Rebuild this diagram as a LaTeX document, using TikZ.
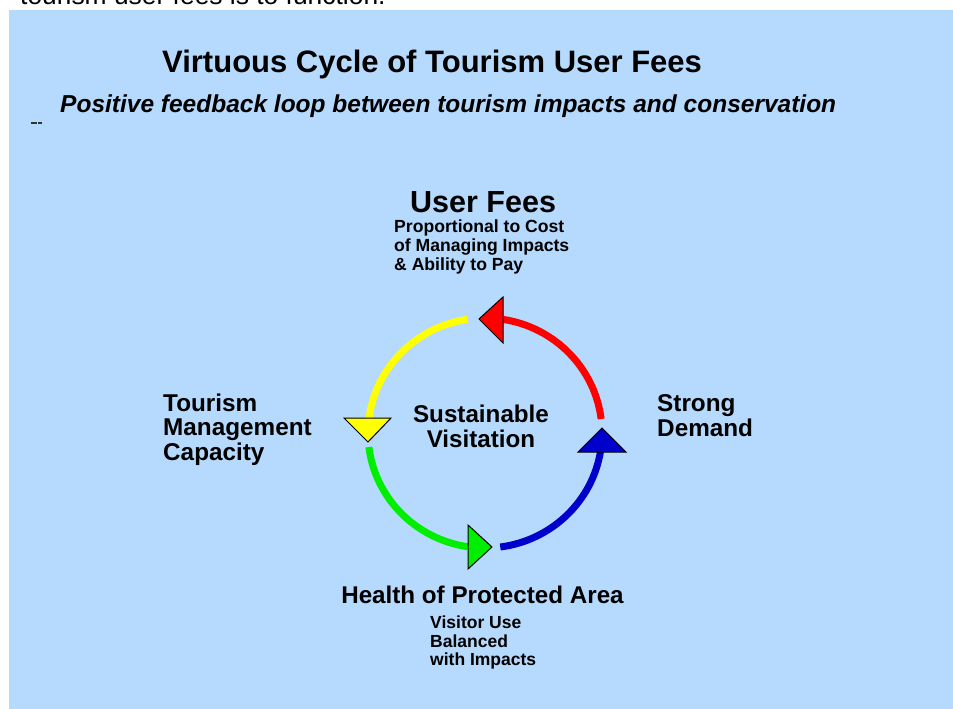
\documentclass[tikz,border=0pt]{standalone}
\usepackage{fontspec}
\setmainfont{Liberation Sans}
\definecolor{bgblue}{RGB}{181,218,253}
\definecolor{cred}{RGB}{255,0,0}
\definecolor{cyellow}{RGB}{255,255,0}
\definecolor{cgreen}{RGB}{0,238,0}
\definecolor{cblue}{RGB}{0,0,205}
\begin{document}
\begin{tikzpicture}[x=1pt,y=-1pt,
  ring/.style={line width=7pt},
  head/.style={draw=black,line width=1pt,line join=miter},
  lbl/.style={inner sep=0pt,font=\bfseries},
]
\useasboundingbox (0,0) rectangle (953,709);
\node[inner sep=0pt,anchor=base west,font=\fontsize{26.4}{30}\selectfont] (top) at (20,4.5) {tourism user fees is to function.};
\fill[bgblue] (9,10) rectangle (953,709);
\draw[line width=1.3pt,black!80] (31,123) -- (37,123) (38,123) -- (42,123);

\node[lbl,anchor=base west,font=\bfseries\fontsize{31}{36}\selectfont] (title) at (162,73) {Virtuous Cycle of Tourism User Fees};
\node[lbl,anchor=base west,font=\bfseries\itshape\fontsize{24.5}{28}\selectfont] (sub) at (60,112) {Positive feedback loop between tourism impacts and conservation};

\coordinate (c) at (485,433);
\draw[ring,cred]    (c) ++(-7:117 and 115)     arc[start angle=-7,     end angle=-81,    x radius=117, y radius=115];
\draw[ring,cyellow] (c) ++(-98.5:117 and 115)  arc[start angle=-98.5,  end angle=-172.7, x radius=117, y radius=115];
\draw[ring,cgreen]  (c) ++(-187:117 and 115)   arc[start angle=-187,   end angle=-261.5, x radius=117, y radius=115];
\draw[ring,cblue]   (c) ++(-277.5:117 and 115) arc[start angle=-277.5, end angle=-351,   x radius=117, y radius=115];

\filldraw[head,fill=cred]    (479,319) -- (503,297) -- (503,343) -- cycle;
\filldraw[head,fill=cyellow] (368,442) -- (344,418) -- (391,418) -- cycle;
\filldraw[head,fill=cgreen]  (492,547) -- (468,525) -- (468,569) -- cycle;
\filldraw[head,fill=cblue]   (602,428) -- (578,452) -- (626,452) -- cycle;

\node[lbl,anchor=base west,font=\bfseries\fontsize{30.5}{34}\selectfont] (fees) at (410,212) {User Fees};
\node[lbl,anchor=base west,font=\bfseries\fontsize{17.6}{19}\selectfont] (feesd) at (394,232)
  {\begin{tabular}[t]{@{}l@{}}Proportional to Cost\\of Managing Impacts\\\& Ability to Pay\end{tabular}};
\node[lbl,anchor=base west,font=\bfseries\fontsize{24.3}{24}\selectfont] (demand) at (657,411.5)
  {\begin{tabular}[t]{@{}l@{}}Strong\\Demand\end{tabular}};
\node[lbl,anchor=base west,font=\bfseries\fontsize{24.3}{24}\selectfont] (cap) at (163,411.5)
  {\begin{tabular}[t]{@{}l@{}}Tourism\\Management\\Capacity\end{tabular}};
\node[lbl,anchor=base,font=\bfseries\fontsize{24.2}{24.5}\selectfont] (sv) at (481,422.7)
  {\begin{tabular}[t]{@{}c@{}}Sustainable\\Visitation\end{tabular}};
\node[lbl,anchor=base,font=\bfseries\fontsize{24.2}{28}\selectfont] (health) at (482.5,603) {Health of Protected Area};
\node[lbl,anchor=base west,font=\bfseries\fontsize{17.5}{18.6}\selectfont] (healthd) at (430,628.5)
  {\begin{tabular}[t]{@{}l@{}}Visitor Use\\Balanced\\with Impacts\end{tabular}};
\end{tikzpicture}
\end{document}
